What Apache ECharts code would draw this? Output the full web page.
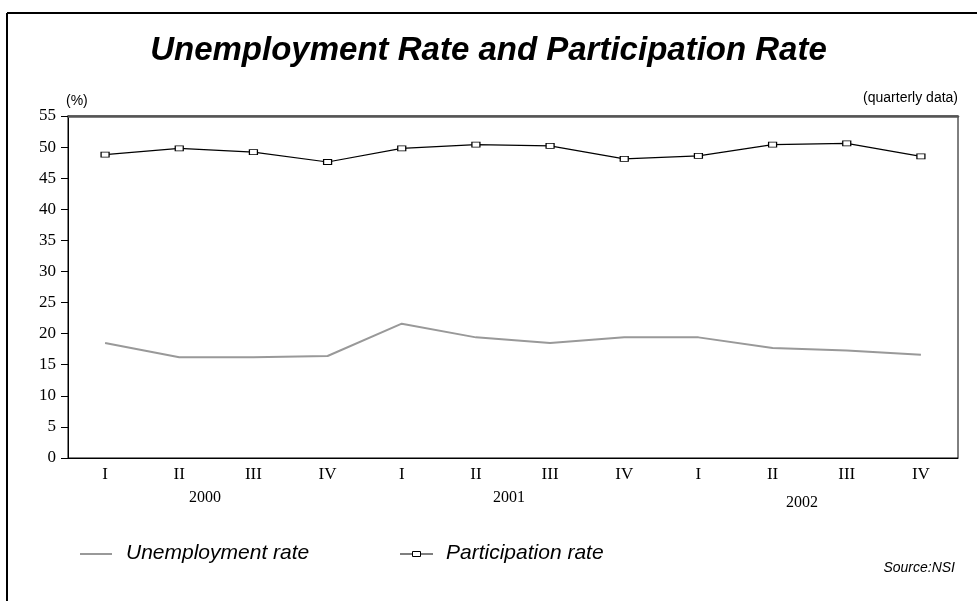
<!DOCTYPE html>
<html>
<head>
<meta charset="utf-8">
<style>
  html, body { margin: 0; padding: 0; background: #fff; }
  #chart { width: 977px; height: 601px; }
</style>
<script src="https://cdn.jsdelivr.net/npm/echarts@6/dist/echarts.min.js"></script>
</head>
<body>
<div id="chart"></div>
<script>
// Quarter labels along the category axis (2000 Q1 .. 2002 Q4)
const quarters = ['I', 'II', 'III', 'IV', 'I', 'II', 'III', 'IV', 'I', 'II', 'III', 'IV'];
// Year captions, each centred under its four quarters
const years = ['2000', '2001', '2002'];
// Rates in percent
const unemploymentRate = [18.5, 16.2, 16.2, 16.4, 21.6, 19.4, 18.5, 19.4, 19.4, 17.7, 17.3, 16.6];
const participationRate = [48.8, 49.8, 49.2, 47.6, 49.8, 50.4, 50.2, 48.1, 48.6, 50.4, 50.6, 48.5];
const seriesNames = ['Unemployment rate', 'Participation rate'];

const serif = '"Liberation Serif", "Times New Roman", serif';
const sans = '"Liberation Sans", Arial, sans-serif';
const legendFont = 'italic 21px ' + sans;

const chart = echarts.init(document.getElementById('chart'));

chart.setOption({
  backgroundColor: '#fff',
  animation: false,
  title: {
    text: 'Unemployment Rate and Participation Rate',
    left: 'center',
    top: 29,
    textStyle: { fontFamily: sans, fontSize: 33, fontWeight: 'bold', fontStyle: 'italic', color: '#000' }
  },
  grid: {
    left: 68, right: 19, top: 116, bottom: 143,
    show: true, borderColor: '#000', borderWidth: 1, backgroundColor: 'transparent'
  },
  xAxis: [
    {
      type: 'category',
      data: quarters,
      boundaryGap: true,
      axisLine: { lineStyle: { color: '#000', width: 1 } },
      axisTick: { alignWithLabel: true, length: 6, lineStyle: { color: '#000' } },
      axisLabel: { fontFamily: serif, fontSize: 17, color: '#000', margin: 8 },
      splitLine: { show: false }
    },
    {
      // heavier grey rule along the top of the plot
      type: 'category',
      position: 'top',
      data: quarters,
      axisLine: { lineStyle: { color: '#555', width: 2.5 } },
      axisTick: { show: false },
      axisLabel: { show: false }
    }
  ],
  yAxis: {
    type: 'value',
    min: 0, max: 55, interval: 5,
    name: '(%)',
    nameLocation: 'end',
    nameGap: 8,
    nameTextStyle: { fontFamily: sans, fontSize: 14, color: '#000', align: 'left', padding: [0, 0, 0, -2] },
    axisLine: { show: true, lineStyle: { color: '#000', width: 1 } },
    axisTick: { show: true, length: 7, lineStyle: { color: '#000' } },
    axisLabel: { fontFamily: serif, fontSize: 17, color: '#000', margin: 12 },
    splitLine: { show: false }
  },
  series: [
    {
      name: seriesNames[0],
      type: 'line',
      data: unemploymentRate,
      symbol: 'none',
      lineStyle: { color: '#999', width: 2 },
      itemStyle: { color: '#999' }
    },
    {
      name: seriesNames[1],
      type: 'line',
      data: participationRate,
      symbol: 'rect',
      symbolSize: [8, 5],
      showAllSymbol: true,
      lineStyle: { color: '#000', width: 1.2 },
      itemStyle: { color: '#fff', borderColor: '#000', borderWidth: 1 }
    }
  ],
  graphic: [
    // outer frame: left and top edges
    { type: 'line', shape: { x1: 7, y1: 13, x2: 977, y2: 13 }, style: { stroke: '#000', lineWidth: 2 } },
    { type: 'line', shape: { x1: 7, y1: 13, x2: 7, y2: 601 }, style: { stroke: '#000', lineWidth: 2 } },
    { type: 'text', right: 19, top: 91, style: { text: '(quarterly data)', font: '14px ' + sans, fill: '#000' } },
    // year captions under the quarter labels
    { type: 'text', left: 189, top: 490, style: { text: years[0], font: '16px ' + serif, fill: '#000' } },
    { type: 'text', left: 493, top: 490, style: { text: years[1], font: '16px ' + serif, fill: '#000' } },
    { type: 'text', left: 786, top: 495, style: { text: years[2], font: '16px ' + serif, fill: '#000' } },
    // legend: grey plain line, black line with square marker
    { type: 'line', shape: { x1: 80, y1: 554, x2: 112, y2: 554 }, style: { stroke: '#999', lineWidth: 2 } },
    { type: 'text', left: 126, top: 543, style: { text: seriesNames[0], font: legendFont, fill: '#000' } },
    { type: 'line', shape: { x1: 400, y1: 554, x2: 433, y2: 554 }, style: { stroke: '#000', lineWidth: 1.2 } },
    { type: 'rect', shape: { x: 412.5, y: 551.5, width: 8, height: 5 }, style: { fill: '#fff', stroke: '#000', lineWidth: 1 } },
    { type: 'text', left: 446, top: 543, style: { text: seriesNames[1], font: legendFont, fill: '#000' } },
    { type: 'text', right: 22, top: 561, style: { text: 'Source:NSI', font: 'italic 14px ' + sans, fill: '#000' } }
  ]
});
</script>
</body>
</html>
